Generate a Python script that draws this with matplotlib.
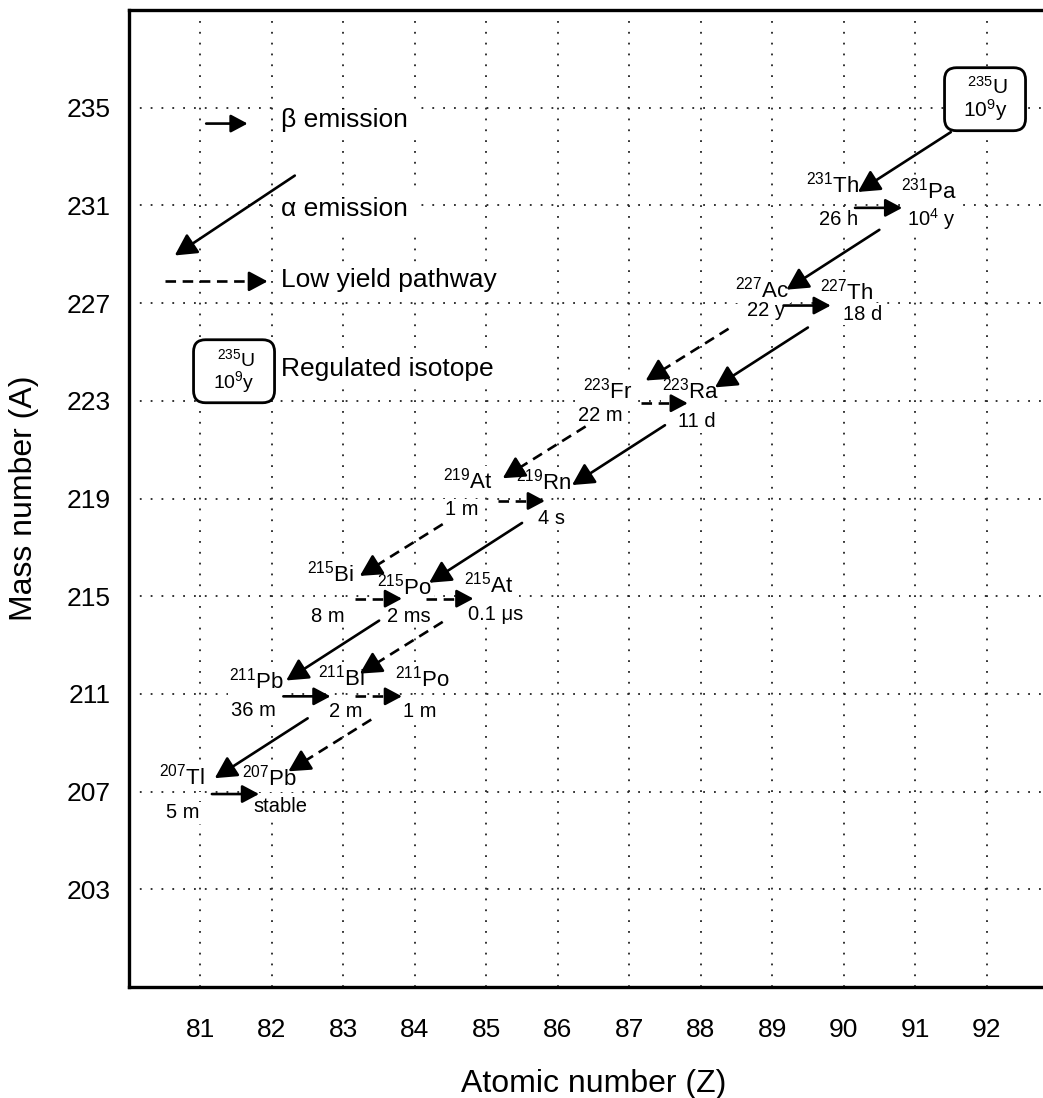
import matplotlib
matplotlib.use("Agg")
import numpy as np
import matplotlib.pyplot as plt
from matplotlib.patches import FancyBboxPatch

plt.rcParams["font.family"] = ["Liberation Sans", "DejaVu Sans"]
plt.rcParams["mathtext.fontset"] = "custom"
plt.rcParams["mathtext.rm"] = "Liberation Sans"
plt.rcParams["mathtext.it"] = "Liberation Sans:italic"
plt.rcParams["mathtext.default"] = "regular"

# ---------------- data ----------------
elements = ["U", "Th", "Pa", "Ac", "Th", "Fr", "Ra", "At", "Rn",
            "Bi", "Po", "At", "Pb", "Bi", "Po", "Tl", "Pb"]
mass_numbers = [235, 231, 231, 227, 227, 223, 223, 219, 219,
                215, 215, 215, 211, 211, 211, 207, 207]
atomic_numbers = [92, 90, 91, 89, 90, 87, 88, 85, 86,
                  83, 84, 85, 82, 83, 84, 81, 82]
half_lives = ["10$^9$y", "26 h", "10$^4$ y", "22 y", "18 d", "22 m", "11 d", "1 m", "4 s",
              "8 m", "2 ms", "0.1 μs", "36 m", "2 m", "1 m", "5 m", "stable"]
regulated = [True] + [False] * 16

decay_parent = [0, 2, 4, 6, 8, 10, 13, 3, 5, 7, 11, 14, 1, 3, 12, 15, 5, 7, 9, 10, 13]
decay_daughter = [1, 3, 6, 8, 10, 12, 15, 5, 7, 9, 13, 16, 2, 4, 13, 16, 6, 8, 10, 11, 14]
decay_mode = ["alpha"] * 12 + ["beta"] * 9
decay_low_yield = [False] * 7 + [True] * 5 + [False] * 4 + [True] * 5

x_ticks = [81, 82, 83, 84, 85, 86, 87, 88, 89, 90, 91, 92]
y_ticks = [203, 207, 211, 215, 219, 223, 227, 231, 235]
x_label = "Atomic number (Z)"
y_label = "Mass number (A)"
legend_labels = ["β emission", "α emission", "Low yield pathway", "Regulated isotope"]
legend_isotope = ("U", 235, "10$^9$y")

# ---------------- layout (pixels, y downward) ----------------
sym_offsets = [(0, 0), (-11, -21), (14, -15), (-10, -14), (3, -12), (-22, -10), (-10, -10),
               (-18, -18), (-14, -17), (-13, -23), (-10, -10), (3, -12), (-15, -13),
               (-2, -16), (8, -15), (-19, -15), (-2, -14)]
hl_offsets = [(0, 0), (-5, 14), (16, 14), (-6, 7), (19, 11), (-29, 15), (-4, 21),
              (-25, 11), (-6, 20), (-16, 20), (-6, 20), (9, 18), (-18, 17),
              (2, 18), (5, 18), (-18, 21), (8, 15)]

fig = plt.figure(figsize=(10.43, 10.98), dpi=100)
ax = fig.add_axes([129 / 1043, 1 - 987 / 1098, (1058 - 129) / 1043, (987 - 10) / 1098])
ax.set_xlim(80, 93)
ax.set_ylim(199, 239)
ax.set_xticks(x_ticks)
ax.set_yticks(y_ticks)
ax.tick_params(length=0, labelsize=19)
ax.tick_params(axis="x", pad=22)
ax.tick_params(axis="y", pad=13)
ax.set_xlabel(x_label, fontsize=23, labelpad=20)
ax.set_ylabel(y_label, fontsize=23, labelpad=20)
for s in ax.spines.values():
    s.set_linewidth(2.4)
ax.set_axisbelow(True)
ax.grid(True, color="#222222", linestyle=(0, (1, 5)), linewidth=1.3)

# pixel -> data scale from the library transform
p0 = ax.transData.transform((0, 0))
p1 = ax.transData.transform((1, 1))
sx = p1[0] - p0[0]
sy = p1[1] - p0[1]


def px(dx, dy):
    return dx / sx, -dy / sy


WHITE = dict(facecolor="white", edgecolor="none", pad=1.0)
HEAD = "-|>,head_length=0.6,head_width=0.32"


def arrow(x0, y0, x1, y1, dashed, ms=22):
    head_px = 0.6 * ms * 100 / 72.0
    props = dict(arrowstyle=HEAD, color="black", lw=1.9,
                 shrinkA=0, shrinkB=0, mutation_scale=ms)
    if dashed:
        # dashed shaft, solid filled head
        vx, vy = (x1 - x0) * sx, (y1 - y0) * sy
        n = np.hypot(vx, vy)
        ux, uy = vx / n, vy / n
        bx, by = x1 - ux * (head_px + 2) / sx, y1 - uy * (head_px + 2) / sy
        ax.plot([x0, bx + ux * 4 / sx], [y0, by + uy * 4 / sy], color="black", lw=1.9,
                linestyle=(0, (4, 2.5)), dash_capstyle="butt",
                zorder=5, clip_on=False)
        ax.annotate("", xy=(x1, y1), xytext=(bx, by), arrowprops=props,
                    zorder=5, annotation_clip=False)
    else:
        ax.annotate("", xy=(x1, y1), xytext=(x0, y0), arrowprops=props,
                    zorder=5, annotation_clip=False)


def iso_box(zc, ac, sym, mass, hl, fs=15):
    w, h = 81 / sx, 63 / sy
    box = FancyBboxPatch((zc - w / 2, ac - h / 2), w, h,
                         boxstyle="round,pad=0,rounding_size=%f" % (12 / sx),
                         mutation_aspect=sx / sy, facecolor="white",
                         edgecolor="black", linewidth=2.0, zorder=4)
    ax.add_patch(box)
    dz, da = px(2, -12)
    ax.text(zc + dz, ac + da, "$^{%d}$%s" % (mass, sym), ha="center", va="center",
            fontsize=fs, zorder=6)
    dz, da = px(0, 11)
    ax.text(zc + dz, ac + da, hl, ha="center", va="center", fontsize=fs, zorder=6)


# isotopes
for i in range(len(elements)):
    z, a = atomic_numbers[i], mass_numbers[i]
    if regulated[i]:
        dz, da = px(-1.5, -8.5)
        iso_box(z + dz, a + da, elements[i], a, half_lives[i])
        continue
    dz, da = px(*sym_offsets[i])
    ax.text(z + dz, a + da, "$^{%d}$%s" % (a, elements[i]), ha="center", va="center",
            fontsize=16, bbox=WHITE, zorder=3)
    dz, da = px(*hl_offsets[i])
    ax.text(z + dz, a + da, half_lives[i], ha="center", va="center",
            fontsize=14.5, bbox=WHITE, zorder=3)

# decays
for p, d, mode, low in zip(decay_parent, decay_daughter, decay_mode, decay_low_yield):
    zp, ap = atomic_numbers[p], mass_numbers[p]
    zd, ad = atomic_numbers[d], mass_numbers[d]
    if mode == "alpha":
        if low:
            s0, s1 = (-0.61, -1.05), (0.23, 0.83)
        else:
            s0, s1 = (-0.5, -1.0), (0.2, 0.55)
        arrow(zp + s0[0], ap + s0[1], zd + s1[0], ad + s1[1], low, ms=22)
    else:
        s0, s1 = (0.16, -0.1), (-0.18, -0.1)
        arrow(zp + s0[0], ap + s0[1], zd + s1[0], ad + s1[1], low, ms=17)

# legend
arrow(81.08, 234.35, 81.66, 234.35, False, ms=17)
ax.text(82.13, 234.5, legend_labels[0], ha="left", va="center", fontsize=19,
        bbox=dict(facecolor="white", edgecolor="none", pad=6), zorder=3)
arrow(82.32, 232.22, 80.64, 228.95, False)
ax.text(82.13, 230.87, legend_labels[1], ha="left", va="center", fontsize=19,
        bbox=dict(facecolor="white", edgecolor="none", pad=6), zorder=3)
arrow(80.5, 227.89, 81.94, 227.89, True, ms=19)
ax.text(82.13, 227.95, legend_labels[2], ha="left", va="center", fontsize=19,
        bbox=dict(facecolor="white", edgecolor="none", pad=3), zorder=3)
iso_box(81.47, 224.21, legend_isotope[0], legend_isotope[1], legend_isotope[2], fs=14)
ax.text(82.13, 224.3, legend_labels[3], ha="left", va="center", fontsize=19,
        bbox=dict(facecolor="white", edgecolor="none", pad=3), zorder=3)

fig.savefig("out.png", dpi=100)
